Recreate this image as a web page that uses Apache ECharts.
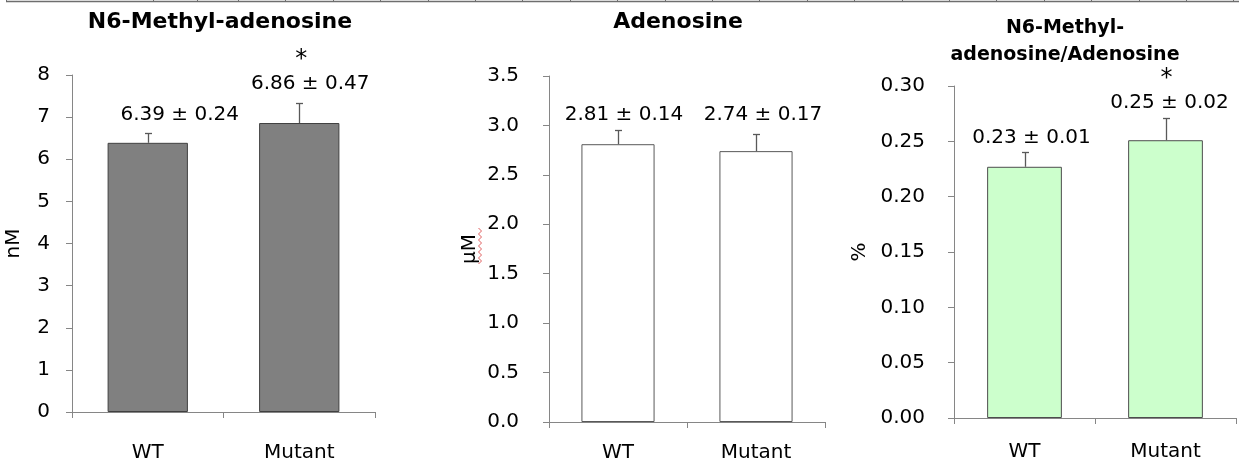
<!DOCTYPE html>
<html><head><meta charset="utf-8">
<script src="https://cdn.jsdelivr.net/npm/echarts@6/dist/echarts.min.js"></script>
<style>html,body{margin:0;padding:0;background:#fff}#c{width:1239px;height:464px}</style>
</head><body><div id="c"></div>
<script>
// ---- data ----
const categories = ['WT', 'Mutant'];

const m6aTitle = 'N6-Methyl-adenosine';
const m6aUnit = 'nM';
const m6aValues = [6.39, 6.86];
const m6aErrors = [0.24, 0.47];
const m6aLabels = ['6.39 ± 0.24', '6.86 ± 0.47'];
const m6aStars = ['', '*'];
const m6aAxis = { min: 0, max: 8, interval: 1, decimals: 0 };

const adoTitle = 'Adenosine';
const adoUnit = 'μM';
const adoValues = [2.81, 2.74];
const adoErrors = [0.14, 0.17];
const adoLabels = ['2.81 ± 0.14', '2.74 ± 0.17'];
const adoStars = ['', ''];
const adoAxis = { min: 0, max: 3.5, interval: 0.5, decimals: 1 };

const ratioTitle = 'N6-Methyl-\nadenosine/Adenosine';
const ratioUnit = '%';
const ratioValues = [0.227, 0.251];
const ratioErrors = [0.013, 0.020];
const ratioLabels = ['0.23 ± 0.01', '0.25 ± 0.02'];
const ratioStars = ['', '*'];
const ratioAxis = { min: 0, max: 0.30, interval: 0.05, decimals: 2 };

// ---- layout / style ----
const FONT = '"DejaVu Sans", sans-serif';
const AXIS = '#868686';
const ERR = '#595959';

const panels = [
  { title: m6aTitle, unit: m6aUnit, values: m6aValues, errors: m6aErrors, labels: m6aLabels, stars: m6aStars, axis: m6aAxis,
    fill: '#808080', border: '#404040',
    grid: { left: 72, top: 75, width: 303, height: 337 }, yMargin: 22, xMargin: 31, nameGap: 48,
    titlePos: [220, 22], titleSize: 22, titleLH: 28,
    labelOff: [[32, -18], [11, -19]], starOff: [2, -43] },
  { title: adoTitle, unit: adoUnit, values: adoValues, errors: adoErrors, labels: adoLabels, stars: adoStars, axis: adoAxis,
    fill: '#ffffff', border: '#595959',
    grid: { left: 549, top: 76, width: 276, height: 346 }, yMargin: 30, xMargin: 21, nameGap: 69,
    titlePos: [678, 22], titleSize: 22, titleLH: 28,
    labelOff: [[6, -16], [7, -20]], starOff: [0, -40] },
  { title: ratioTitle, unit: ratioUnit, values: ratioValues, errors: ratioErrors, labels: ratioLabels, stars: ratioStars, axis: ratioAxis,
    fill: '#ccffcc', border: '#4d4d4d',
    grid: { left: 954, top: 86, width: 282, height: 332 }, yMargin: 29, xMargin: 24, nameGap: 84,
    titlePos: [1065, 42], titleSize: 19, titleLH: 27,
    labelOff: [[7, -15], [4, -15]], starOff: [1, -39] }
];

const grids = [], xAxes = [], yAxes = [], series = [], graphics = [];

panels.forEach((p, i) => {
  grids.push(Object.assign({}, p.grid));
  xAxes.push({
    type: 'category', gridIndex: i, data: categories, boundaryGap: true,
    axisLine: { lineStyle: { color: AXIS, width: 1 } },
    axisTick: { show: true, length: 6, alignWithLabel: false, lineStyle: { color: AXIS } },
    axisLabel: { margin: p.xMargin, color: '#000', fontSize: 20, fontFamily: FONT },
    splitLine: { show: false }
  });
  yAxes.push({
    type: 'value', gridIndex: i, min: p.axis.min, max: p.axis.max, interval: p.axis.interval,
    axisLine: { show: true, lineStyle: { color: AXIS, width: 1 } },
    axisTick: { show: true, length: 6, lineStyle: { color: AXIS } },
    axisLabel: { margin: p.yMargin, color: '#000', fontSize: 20, fontFamily: FONT,
      formatter: v => v.toFixed(p.axis.decimals) },
    splitLine: { show: false },
    name: p.unit, nameLocation: 'middle', nameGap: p.nameGap,
    nameTextStyle: { color: '#000', fontSize: 20, fontFamily: FONT }
  });
  series.push({
    type: 'bar', xAxisIndex: i, yAxisIndex: i, data: p.values, barWidth: '53%',
    itemStyle: { color: p.fill, borderColor: p.border, borderWidth: 1 },
    silent: true, animation: false
  });
  series.push({
    type: 'custom', xAxisIndex: i, yAxisIndex: i, clip: false, animation: false, silent: true, z: 5,
    data: p.values.map((v, j) => [j, v, p.errors[j]]),
    renderItem: (params, api) => {
      const j = params.dataIndex;
      const v = api.value(1), e = api.value(2);
      const p0 = api.coord([j, v]);
      const p1 = api.coord([j, v + e]);
      const x = Math.round(p0[0]) + 0.5;
      const yt = Math.round(p1[1]) + 0.5;
      const children = [
        { type: 'line', shape: { x1: x, y1: p0[1], x2: x, y2: yt }, style: { stroke: ERR, lineWidth: 1.3 } },
        { type: 'line', shape: { x1: x - 3.5, y1: yt, x2: x + 3.5, y2: yt }, style: { stroke: ERR, lineWidth: 1.3 } },
        { type: 'text', style: { text: p.labels[j], x: p0[0] + p.labelOff[j][0], y: p1[1] + p.labelOff[j][1],
            align: 'center', verticalAlign: 'middle', fill: '#000', fontSize: 20, fontFamily: FONT } }
      ];
      if (p.stars[j]) {
        children.push({ type: 'text', style: { text: p.stars[j], x: p0[0] + p.starOff[0], y: p1[1] + p.starOff[1],
          align: 'center', verticalAlign: 'middle', fill: '#000', fontSize: 24, fontFamily: FONT } });
      }
      return { type: 'group', children };
    }
  });
  graphics.push({
    type: 'text', x: p.titlePos[0], y: p.titlePos[1], silent: true,
    style: { text: p.title, align: 'center', verticalAlign: 'middle', fill: '#000',
      fontSize: p.titleSize, fontWeight: 'bold', fontFamily: FONT, lineHeight: p.titleLH }
  });
});

// top ruler line (page decoration)
graphics.push({ type: 'line', silent: true, shape: { x1: 6, y1: 1.5, x2: 1239, y2: 1.5 }, style: { stroke: '#6e6e6e', lineWidth: 1.5 } });
const rulerTicks = [6, 153, 197];
for (let t = 238; t < 1239; t += 47.4) rulerTicks.push(Math.round(t));
rulerTicks.forEach(t => graphics.push({ type: 'line', silent: true, shape: { x1: t + 0.5, y1: 0, x2: t + 0.5, y2: 2 }, style: { stroke: '#6e6e6e', lineWidth: 1 } }));

// spell-check squiggle under the rotated unit label
const sq = [];
for (let k = 0; k <= 12; k++) sq.push([480 + (k % 2 ? 1.5 : -1.5), 228 + k * 3]);
graphics.push({ type: 'polyline', silent: true, shape: { points: sq }, style: { stroke: '#e06060', lineWidth: 1, fill: null } });

const chart = echarts.init(document.getElementById('c'), null, { renderer: 'canvas' });
chart.setOption({
  animation: false,
  backgroundColor: '#fff',
  grid: grids, xAxis: xAxes, yAxis: yAxes, series,
  graphic: graphics
});
</script></body></html>
